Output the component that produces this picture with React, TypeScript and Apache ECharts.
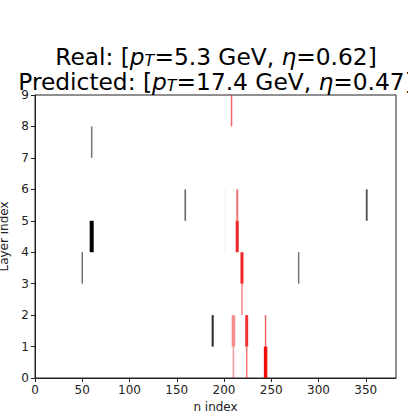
import React, { useEffect, useRef } from "react";
import * as echarts from "echarts";

// Real hits (black): n index, layer index, weight (line width), alpha
const realN = [50, 60, 60, 159, 188, 279, 351, 201, 201];
const realLayer = [3, 4, 7, 5, 1, 3, 5, 4, 5];
const realWeight = [1.5, 4, 1.5, 1.6, 2, 1.5, 1.8, 1, 1];
const realAlpha = [0.55, 1, 0.55, 0.6, 0.85, 0.55, 0.7, 0.06, 0.06];

// Predicted hits (red)
const predN = [208, 214, 214, 219, 219, 210, 210, 224, 224, 244, 244];
const predLayer = [8, 5, 4, 3, 2, 1, 0, 1, 0, 1, 0];
const predWeight = [1.5, 2, 3, 3, 1.5, 3.5, 1.5, 3, 1.5, 1.5, 3.5];
const predAlpha = [0.6, 0.55, 0.85, 0.85, 0.5, 0.45, 0.4, 0.8, 0.55, 0.6, 0.95];

const xTicks = [0, 50, 100, 150, 200, 250, 300, 350];
const yTicks = [0, 1, 2, 3, 4, 5, 6, 7, 8, 9];

const FONT = "DejaVu Sans";

export default function App() {
  const ref = useRef<HTMLDivElement>(null);
  useEffect(() => {
    if (!ref.current) return;
    const chart = echarts.init(ref.current, null, { renderer: "svg" });

    const mk = (n: number[], l: number[], w: number[], a: number[]) =>
      n.map((v, i) => [v, l[i], w[i], a[i]]);

    const renderItem = (rgb: string) => (params: any, api: any) => {
      const x = api.value(0);
      const l = api.value(1);
      const p0 = api.coord([x, l]);
      const p1 = api.coord([x, l + 1]);
      return {
        type: "line",
        shape: { x1: p0[0], y1: p0[1], x2: p1[0], y2: p1[1] },
        style: {
          stroke: `rgba(${rgb},${api.value(3)})`,
          lineWidth: api.value(2),
          fill: null,
        },
      };
    };

    const FS = 23.3;
    const rich = {
      n: { fontSize: FS, fontFamily: FONT, color: "#000", lineHeight: 24 },
      i: { fontSize: FS, fontFamily: FONT, fontStyle: "italic", color: "#000", lineHeight: 24 },
      s: {
        fontSize: 16,
        fontFamily: FONT,
        fontStyle: "italic",
        color: "#000",
        lineHeight: 16,
        verticalAlign: "bottom",
      },
    };

    chart.setOption({
      animation: false,
      grid: {
        left: 35,
        right: 12,
        top: 95,
        bottom: 33,
        outerBoundsMode: "none",
        containLabel: false,
        show: true,
        borderColor: "#222",
        borderWidth: 1,
        backgroundColor: "#fff",
      },
      graphic: [
        {
          type: "text",
          x: 216,
          y: 68,
          style: {
            text: "{n|Real: [}{i|p}{s|T}{n|=5.3 GeV, }{i|η}{n|=0.62]}",
            rich,
            textAlign: "center",
            textVerticalAlign: "bottom",
          },
        },
        {
          type: "text",
          x: 216,
          y: 93,
          style: {
            text: "{n|Predicted: [}{i|p}{s|T}{n|=17.4 GeV, }{i|η}{n|=0.47]}",
            rich,
            textAlign: "center",
            textVerticalAlign: "bottom",
          },
        },
      ],
      xAxis: {
        type: "value",
        min: 0,
        max: 382,
        interval: 50,
        name: "n index",
        nameLocation: "middle",
        nameGap: 21,
        nameTextStyle: { fontFamily: FONT, fontSize: 12, color: "#222" },
        splitLine: { show: false },
        axisLine: { show: true, lineStyle: { color: "#222" } },
        axisTick: { show: true, length: 4, customValues: xTicks, lineStyle: { color: "#222" } },
        axisLabel: {
          customValues: xTicks,
          fontFamily: FONT,
          fontSize: 12,
          color: "#222",
          margin: 6,
        },
      },
      yAxis: {
        type: "value",
        min: 0,
        max: 9,
        interval: 1,
        name: "Layer index",
        nameLocation: "middle",
        nameGap: 19,
        nameTextStyle: { fontFamily: FONT, fontSize: 12, color: "#222" },
        splitLine: { show: false },
        axisLine: { show: true, lineStyle: { color: "#222" } },
        axisTick: { show: true, length: 4, customValues: yTicks, lineStyle: { color: "#222" } },
        axisLabel: {
          customValues: yTicks,
          fontFamily: FONT,
          fontSize: 12,
          color: "#222",
          margin: 6,
        },
      },
      series: [
        {
          type: "custom",
          name: "Real",
          renderItem: renderItem("0,0,0"),
          encode: { x: 0, y: 1 },
          data: mk(realN, realLayer, realWeight, realAlpha),
        },
        {
          type: "custom",
          name: "Predicted",
          renderItem: renderItem("235,0,0"),
          encode: { x: 0, y: 1 },
          data: mk(predN, predLayer, predWeight, predAlpha),
        },
      ],
    });
    return () => chart.dispose();
  }, []);
  return <div ref={ref} style={{ width: 408, height: 411, position: "absolute", left: 0, top: 0 }} />;
}
